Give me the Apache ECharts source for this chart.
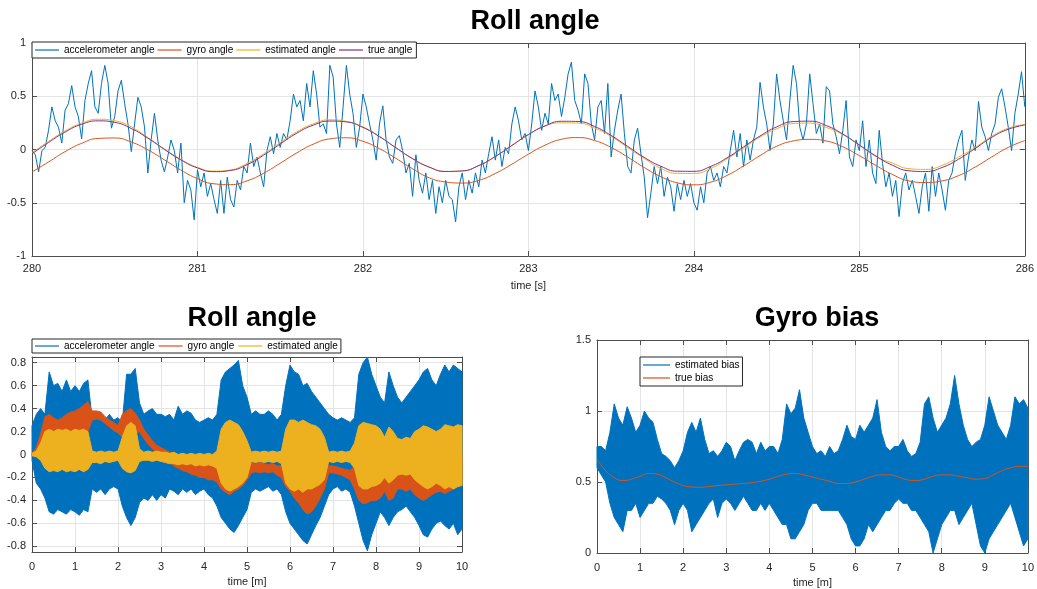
<!DOCTYPE html>
<html><head><meta charset="utf-8">
<script src="https://cdn.jsdelivr.net/npm/echarts@6/dist/echarts.min.js"></script>
<style>html,body{margin:0;padding:0;background:#fff}#c{width:1037px;height:589px}</style>
</head><body><div id="c"></div>
<script>
// ---------- Top: Roll angle 280..286 s ----------
const topTimeStart = 280;
const accelStep = 0.02;
const accelAngle = [
-0.01,-0.05,-0.21,-0.01,0.02,0.18,0.40,0.27,0.21,0.06,
0.37,0.43,0.60,0.40,0.31,0.10,0.46,0.62,0.74,0.40,
0.34,0.62,0.79,0.62,0.20,0.31,0.55,0.65,0.43,0.24,
-0.02,0.24,0.49,0.40,0.21,-0.22,0.09,0.34,0.09,-0.10,
-0.21,-0.07,0.09,-0.01,-0.22,0.06,-0.50,-0.29,-0.38,-0.66,
-0.19,-0.35,-0.22,-0.44,-0.32,-0.47,-0.60,-0.29,-0.60,-0.26,
-0.47,-0.54,-0.29,-0.38,-0.16,-0.22,0.06,-0.16,-0.07,-0.22,
-0.35,-0.01,0.12,-0.04,0.15,0.02,0.15,0.09,0.27,0.52,
0.40,0.46,0.27,0.62,0.40,0.74,0.52,0.21,0.24,0.15,
0.79,0.68,0.24,0.02,0.40,0.79,0.52,0.34,0.02,0.21,
0.52,0.40,0.24,0.09,-0.10,0.24,0.41,0.09,-0.07,-0.13,
0.09,0.13,-0.01,-0.22,-0.13,-0.44,-0.05,-0.29,-0.41,-0.22,
-0.47,-0.29,-0.60,-0.35,-0.50,-0.29,-0.44,-0.47,-0.68,-0.35,
-0.22,-0.47,-0.29,-0.41,-0.22,-0.35,-0.10,-0.22,-0.04,0.12,
-0.10,0.09,-0.16,0.02,-0.04,0.24,0.40,0.27,0.09,0.15,
-0.01,0.24,0.55,0.40,0.18,0.34,0.24,0.62,0.46,0.52,
0.31,0.49,0.71,0.82,0.46,0.37,0.24,0.71,0.62,0.24,
0.09,0.40,0.46,0.15,0.62,-0.07,0.18,0.37,0.52,0.15,
-0.16,-0.22,0.09,0.20,-0.04,-0.26,-0.64,-0.41,-0.16,-0.32,
-0.16,-0.44,-0.26,-0.35,-0.58,-0.32,-0.47,-0.29,-0.44,-0.32,
-0.50,-0.57,-0.35,-0.50,-0.22,-0.16,-0.29,-0.22,-0.35,-0.16,
-0.22,-0.01,0.18,-0.07,0.15,-0.16,0.09,-0.10,0.09,0.21,
0.63,0.40,0.24,-0.01,0.24,0.71,0.46,0.27,0.09,0.46,
0.79,0.62,0.21,0.09,0.24,0.71,0.43,0.15,0.24,0.06,
0.59,0.55,0.24,0.12,-0.04,0.18,0.46,-0.07,-0.16,0.09,
-0.01,0.27,-0.16,0.09,-0.22,-0.32,0.18,-0.13,-0.35,-0.22,
-0.44,-0.29,-0.63,-0.32,-0.22,-0.38,-0.29,-0.44,-0.60,-0.35,
-0.22,-0.58,-0.16,-0.44,-0.22,-0.38,-0.57,-0.29,-0.22,-0.04,
0.09,0.18,-0.29,-0.07,0.09,-0.01,0.45,0.21,0.12,-0.01,
0.15,0.24,0.49,0.57,0.40,0.21,-0.01,0.34,0.52,0.73,
0.40];
const smoothStep = 0.1;
const gyroAngle = [
-0.211,-0.117,-0.02,0.058,0.104,0.108,0.07,-0.003,-0.097,-0.193,
-0.274,-0.322,-0.33,-0.294,-0.223,-0.129,-0.032,0.05,0.1,0.11,
0.077,0.008,-0.084,-0.181,-0.265,-0.305,-0.315,-0.29,-0.225,-0.138,
-0.044,0.04,0.096,0.112,0.084,0.019,-0.071,-0.169,-0.255,-0.313,
-0.332,-0.307,-0.244,-0.155,-0.057,0.03,0.08,0.095,0.08,0.025,
-0.058,-0.15,-0.235,-0.295,-0.31,-0.295,-0.245,-0.165,-0.07,0.02,
0.084];
const estimatedAngle = [
-0.03,0.076,0.174,0.247,0.284,0.27,0.212,0.112,0.006,-0.093,
-0.168,-0.203,-0.192,-0.13,-0.041,0.064,0.165,0.241,0.279,0.264,
0.212,0.125,0.015,-0.086,-0.165,-0.206,-0.201,-0.151,-0.066,0.038,
0.14,0.221,0.25,0.248,0.201,0.122,0.019,-0.084,-0.177,-0.224,
-0.225,-0.18,-0.089,0.014,0.117,0.194,0.244,0.248,0.207,0.14,
0.038,-0.066,-0.128,-0.18,-0.187,-0.149,-0.071,0.019,0.124,0.2,
0.235];
const trueAngle = [
-0.04,0.066,0.164,0.237,0.269,0.255,0.197,0.107,0.001,-0.098,
-0.173,-0.208,-0.197,-0.142,-0.053,0.052,0.153,0.229,0.267,0.259,
0.207,0.12,0.015,-0.086,-0.165,-0.206,-0.201,-0.151,-0.066,0.038,
0.14,0.221,0.265,0.263,0.216,0.132,0.029,-0.074,-0.157,-0.204,
-0.205,-0.16,-0.079,0.024,0.127,0.212,0.262,0.266,0.225,0.145,
0.043,-0.061,-0.148,-0.2,-0.207,-0.169,-0.091,0.009,0.114,0.19,
0.23];

// ---------- Bottom left: Roll angle over 10 min (envelopes every 0.1 min) ----------
const bandStep = 0.1;
const accUpper = [
0.25,0.35,0.4,0.35,0.72,0.6,0.62,0.55,0.65,0.55,
0.6,0.55,0.62,0.65,0.3,0.35,0.32,0.3,0.35,0.3,
0.32,0.28,0.7,0.7,0.75,0.45,0.35,0.38,0.4,0.35,
0.35,0.33,0.35,0.3,0.42,0.35,0.38,0.36,0.3,0.28,
0.3,0.32,0.3,0.35,0.65,0.72,0.75,0.78,0.82,0.6,
0.5,0.35,0.38,0.35,0.35,0.38,0.35,0.3,0.35,0.6,
0.78,0.72,0.7,0.6,0.62,0.55,0.5,0.45,0.4,0.35,
0.32,0.3,0.32,0.3,0.28,0.32,0.7,0.8,0.85,0.7,
0.6,0.5,0.45,0.72,0.6,0.5,0.45,0.5,0.55,0.6,
0.65,0.72,0.75,0.65,0.6,0.7,0.78,0.72,0.78,0.75,
0.72];
const accLower = [
-0.05,-0.25,-0.3,-0.38,-0.5,-0.52,-0.48,-0.5,-0.52,-0.48,
-0.5,-0.53,-0.48,-0.5,-0.3,-0.33,-0.3,-0.35,-0.3,-0.28,
-0.3,-0.45,-0.55,-0.62,-0.55,-0.42,-0.38,-0.4,-0.35,-0.4,
-0.35,-0.38,-0.3,-0.32,-0.35,-0.3,-0.33,-0.3,-0.35,-0.32,
-0.3,-0.35,-0.38,-0.45,-0.55,-0.6,-0.65,-0.68,-0.62,-0.55,
-0.48,-0.33,-0.3,-0.32,-0.3,-0.28,-0.32,-0.3,-0.35,-0.5,
-0.6,-0.65,-0.7,-0.75,-0.78,-0.7,-0.62,-0.55,-0.45,-0.35,
-0.3,-0.28,-0.32,-0.3,-0.33,-0.45,-0.6,-0.75,-0.84,-0.7,
-0.6,-0.5,-0.55,-0.62,-0.55,-0.5,-0.48,-0.45,-0.5,-0.55,
-0.62,-0.7,-0.72,-0.65,-0.6,-0.58,-0.62,-0.65,-0.6,-0.7,
-0.65];
const gyroUpper = [
0.01,0.06,0.18,0.33,0.35,0.32,0.3,0.32,0.35,0.37,
0.38,0.4,0.43,0.46,0.38,0.38,0.37,0.33,0.3,0.28,
0.25,0.35,0.38,0.4,0.36,0.3,0.22,0.17,0.12,0.08,
0.06,0.04,0.02,0.0,0.0,-0.01,-0.02,-0.03,-0.04,-0.05,
-0.06,-0.07,-0.08,-0.08,0.1,0.1,0.1,0.1,0.1,0.05,
0.0,-0.07,-0.08,-0.07,-0.08,-0.09,-0.08,-0.1,-0.1,0.0,
0.0,0.0,0.0,0.0,0.0,0.0,0.0,0.0,-0.05,-0.1,
-0.1,-0.11,-0.12,-0.13,-0.14,-0.1,0.0,0.0,0.0,0.0,
0.0,-0.05,-0.1,0.0,0.0,-0.08,-0.1,-0.1,-0.1,-0.05,
0.0,0.0,0.0,0.0,0.0,0.0,0.0,0.0,0.0,0.0,
0.0];
const gyroLower = [
-0.01,-0.02,0.0,0.05,0.1,0.1,0.08,0.1,0.12,0.15,
0.15,0.17,0.2,0.2,0.3,0.31,0.3,0.27,0.24,0.21,
0.19,0.15,0.2,0.2,0.18,0.2,0.14,0.09,0.05,0.02,
0.0,-0.02,-0.05,-0.1,-0.12,-0.14,-0.15,-0.17,-0.18,-0.2,
-0.2,-0.22,-0.22,-0.24,-0.3,-0.33,-0.35,-0.32,-0.3,-0.27,
-0.22,-0.16,-0.15,-0.16,-0.15,-0.16,-0.15,-0.18,-0.2,-0.28,
-0.32,-0.38,-0.42,-0.48,-0.52,-0.5,-0.45,-0.38,-0.3,-0.16,
-0.16,-0.17,-0.18,-0.2,-0.22,-0.3,-0.4,-0.43,-0.42,-0.4,
-0.4,-0.38,-0.32,-0.4,-0.38,-0.3,-0.3,-0.32,-0.3,-0.35,
-0.38,-0.4,-0.38,-0.35,-0.33,-0.32,-0.34,-0.32,-0.3,-0.28,
-0.26];
const estUpper = [
0.01,0.03,0.1,0.2,0.22,0.2,0.22,0.21,0.22,0.2,
0.22,0.21,0.22,0.2,0.03,0.02,0.03,0.02,0.03,0.02,
0.03,0.15,0.25,0.28,0.25,0.05,0.02,0.03,0.02,0.03,
0.02,0.02,0.01,0.02,0.0,0.01,0.0,0.01,0.0,0.01,
0.0,0.01,0.0,0.03,0.22,0.28,0.3,0.28,0.26,0.2,
0.12,0.02,0.03,0.02,0.03,0.02,0.03,0.02,0.03,0.22,
0.3,0.3,0.28,0.3,0.28,0.26,0.25,0.22,0.15,0.02,
0.03,0.02,0.03,0.02,0.03,0.1,0.25,0.28,0.27,0.26,
0.25,0.22,0.15,0.24,0.2,0.14,0.13,0.15,0.14,0.2,
0.22,0.25,0.24,0.22,0.2,0.22,0.26,0.25,0.24,0.26,
0.25];
const estLower = [
-0.01,-0.02,-0.05,-0.12,-0.15,-0.14,-0.15,-0.13,-0.15,-0.14,
-0.15,-0.13,-0.15,-0.13,-0.07,-0.07,-0.08,-0.06,-0.07,-0.06,
-0.05,-0.12,-0.15,-0.16,-0.14,-0.06,-0.05,-0.05,-0.06,-0.05,
-0.06,-0.07,-0.08,-0.08,-0.09,-0.08,-0.09,-0.08,-0.1,-0.09,
-0.1,-0.09,-0.1,-0.12,-0.25,-0.3,-0.32,-0.3,-0.28,-0.25,
-0.2,-0.06,-0.07,-0.06,-0.07,-0.06,-0.07,-0.06,-0.08,-0.25,
-0.3,-0.32,-0.3,-0.33,-0.3,-0.3,-0.28,-0.26,-0.22,-0.06,
-0.07,-0.06,-0.07,-0.06,-0.07,-0.12,-0.27,-0.3,-0.3,-0.28,
-0.27,-0.25,-0.2,-0.25,-0.22,-0.18,-0.17,-0.18,-0.17,-0.22,
-0.25,-0.28,-0.3,-0.28,-0.25,-0.27,-0.3,-0.28,-0.3,-0.28,
-0.27];

// ---------- Bottom right: Gyro bias ----------
const biasUpper = [
0.75,0.75,0.72,0.85,1.05,0.95,0.9,1.03,0.95,0.85,
0.9,1.0,0.95,0.92,0.8,0.7,0.68,0.65,0.6,0.65,
0.72,0.85,0.92,0.85,0.95,0.8,0.7,0.72,0.68,0.72,
0.78,0.75,0.65,0.72,0.78,0.8,0.78,0.7,0.78,0.72,
0.75,0.75,0.7,0.8,1.05,0.98,1.02,1.15,0.95,0.85,
0.75,0.7,0.72,0.68,0.75,0.7,0.72,0.8,0.9,0.82,
0.8,0.9,0.85,0.9,0.95,1.08,0.85,0.75,0.72,0.75,
0.75,0.8,0.72,0.68,0.7,0.78,1.05,1.1,0.95,0.85,
0.9,0.95,1.05,1.25,1.05,0.9,0.8,0.75,0.78,0.8,
0.9,1.1,1.0,0.9,0.85,0.8,0.9,1.1,1.05,1.08,
1.02];
const biasLower = [
0.6,0.55,0.5,0.35,0.25,0.2,0.15,0.3,0.3,0.35,
0.25,0.3,0.35,0.35,0.4,0.38,0.35,0.3,0.2,0.3,
0.35,0.3,0.15,0.2,0.25,0.3,0.35,0.38,0.25,0.35,
0.38,0.35,0.3,0.35,0.4,0.35,0.3,0.3,0.35,0.3,
0.35,0.3,0.25,0.2,0.2,0.1,0.1,0.15,0.2,0.3,
0.35,0.35,0.3,0.3,0.3,0.3,0.3,0.25,0.2,0.1,
0.05,0.05,0.1,0.2,0.15,0.2,0.25,0.3,0.3,0.35,
0.38,0.35,0.35,0.3,0.3,0.25,0.2,0.15,0.0,0.1,
0.2,0.25,0.3,0.3,0.2,0.25,0.3,0.35,0.2,0.05,
0.0,0.1,0.15,0.2,0.25,0.3,0.35,0.25,0.15,0.05,
0.1];
const trueBiasStep = 0.2;
const trueBias = [
0.66,0.58,0.53,0.51,0.52,0.54,0.56,0.555,0.53,0.5,
0.475,0.465,0.463,0.468,0.475,0.48,0.485,0.49,0.495,0.505,
0.52,0.54,0.555,0.56,0.55,0.535,0.52,0.505,0.49,0.49,
0.5,0.52,0.54,0.55,0.55,0.535,0.515,0.51,0.52,0.54,
0.55,0.55,0.54,0.53,0.52,0.525,0.55,0.58,0.6,0.61,
0.61];

const rollLabels = [-0.8,-0.6,-0.4,-0.2,0,0.2,0.4,0.6,0.8];

// ---------- styling ----------
const FONT = 'Liberation Sans, Arial, sans-serif';
const TXT = '#262626';
const BOX = '#4d4d4d';
const GRIDC = '#e4e4e4';
const C_BLUE = '#0072BD', C_ORANGE = '#D95319', C_YELLOW = '#EDB120', C_PURPLE = '#7E2F8E';

function xPair(g, min, max, interval, name, nameGap, margin) {
  return [{
    type: 'value', gridIndex: g, min, max, interval, position: 'bottom',
    axisLine: {show: true, onZero: false, lineStyle: {color: BOX, width: 1}},
    axisTick: {show: true, inside: true, length: 5, lineStyle: {color: BOX}},
    axisLabel: {color: TXT, fontSize: 11, fontFamily: FONT, margin},
    splitLine: {show: true, lineStyle: {color: GRIDC, width: 1}},
    name, nameLocation: 'middle', nameGap,
    nameTextStyle: {color: TXT, fontSize: 11, fontFamily: FONT}
  }, {
    type: 'value', gridIndex: g, min, max, interval, position: 'top',
    axisLine: {show: true, onZero: false, lineStyle: {color: BOX, width: 1}},
    axisTick: {show: true, inside: true, length: 5, lineStyle: {color: BOX}},
    axisLabel: {show: false}, splitLine: {show: false}
  }];
}
function yPair(g, min, max, interval, custom) {
  const a = {
    type: 'value', gridIndex: g, min, max, position: 'left',
    axisLine: {show: true, onZero: false, lineStyle: {color: BOX, width: 1}},
    axisTick: {show: true, inside: true, length: 5, lineStyle: {color: BOX}},
    axisLabel: {color: TXT, fontSize: 11, fontFamily: FONT, margin: 6},
    splitLine: {show: true, lineStyle: {color: GRIDC, width: 1}}
  };
  const b = {
    type: 'value', gridIndex: g, min, max, position: 'right',
    axisLine: {show: true, onZero: false, lineStyle: {color: BOX, width: 1}},
    axisTick: {show: true, inside: true, length: 5, lineStyle: {color: BOX}},
    axisLabel: {show: false}, splitLine: {show: false}
  };
  if (custom) {
    a.axisTick.customValues = custom; a.axisLabel.customValues = custom;
    b.axisTick.customValues = custom;
  } else { a.interval = interval; b.interval = interval; }
  return [a, b];
}

function pts(arr, start, step) { return arr.map((v, i) => [start + i * step, v]); }

// filled band between a lower and an upper envelope, drawn through the axes
function band(id, lower, upper, color, xi, yi) {
  const data = upper.map((v, i) => [i * bandStep, lower[i], v]);
  return {
    type: 'custom', name: id, xAxisIndex: xi, yAxisIndex: yi, data,
    encode: {x: 0, y: [1, 2]}, silent: true, animation: false,
    renderItem(params, api) {
      if (params.dataIndex !== 0) return null;
      const top = data.map(d => api.coord([d[0], d[2]]));
      const bot = data.map(d => api.coord([d[0], d[1]])).reverse();
      return {
        type: 'polygon', shape: {points: top.concat(bot)},
        style: {fill: color, stroke: color, lineWidth: 1, lineJoin: 'miter'}
      };
    }
  };
}

const series = [
  {type: 'line', name: 'accelerometer angle', xAxisIndex: 0, yAxisIndex: 0,
   data: pts(accelAngle, topTimeStart, accelStep), symbol: 'none',
   lineStyle: {color: C_BLUE, width: 1}, itemStyle: {color: C_BLUE}, animation: false},
  {type: 'line', name: 'gyro angle', xAxisIndex: 0, yAxisIndex: 0, smooth: true,
   data: pts(gyroAngle, topTimeStart, smoothStep), symbol: 'none',
   lineStyle: {color: C_ORANGE, width: 1}, itemStyle: {color: C_ORANGE}, animation: false},
  {type: 'line', name: 'estimated angle', xAxisIndex: 0, yAxisIndex: 0, smooth: true,
   data: pts(estimatedAngle, topTimeStart, smoothStep), symbol: 'none',
   lineStyle: {color: C_YELLOW, width: 1}, itemStyle: {color: C_YELLOW}, animation: false},
  {type: 'line', name: 'true angle', xAxisIndex: 0, yAxisIndex: 0, smooth: true,
   data: pts(trueAngle, topTimeStart, smoothStep), symbol: 'none',
   lineStyle: {color: C_PURPLE, width: 1}, itemStyle: {color: C_PURPLE}, animation: false},
  band('acc band', accLower, accUpper, C_BLUE, 2, 2),
  band('gyro band', gyroLower, gyroUpper, C_ORANGE, 2, 2),
  band('est band', estLower, estUpper, C_YELLOW, 2, 2),
  band('bias band', biasLower, biasUpper, C_BLUE, 4, 4),
  {type: 'line', name: 'estimated bias', xAxisIndex: 4, yAxisIndex: 4, data: [],
   symbol: 'none', lineStyle: {color: C_BLUE, width: 2}, itemStyle: {color: C_BLUE}},
  {type: 'line', name: 'true bias', xAxisIndex: 4, yAxisIndex: 4, smooth: true,
   data: pts(trueBias, 0, trueBiasStep), symbol: 'none',
   lineStyle: {color: C_ORANGE, width: 1}, itemStyle: {color: C_ORANGE}, animation: false}
];

const legendBase = {
  orient: 'horizontal', selectedMode: false, backgroundColor: '#fff',
  borderColor: '#262626', borderWidth: 1, icon: 'rect', itemHeight: 1.2,
  textStyle: {fontSize: 10, color: '#000', fontFamily: FONT}
};

const option = {
  animation: false,
  backgroundColor: '#fff',
  title: [
    {text: 'Roll angle', left: 530, top: 3, textAlign: 'center',
     textStyle: {fontSize: 27, fontWeight: 'bold', color: '#000', fontFamily: FONT}},
    {text: 'Roll angle', left: 247, top: 300, textAlign: 'center',
     textStyle: {fontSize: 27, fontWeight: 'bold', color: '#000', fontFamily: FONT}},
    {text: 'Gyro bias', left: 812, top: 300, textAlign: 'center',
     textStyle: {fontSize: 27, fontWeight: 'bold', color: '#000', fontFamily: FONT}}
  ],
  grid: [
    {left: 32, top: 43, width: 996, height: 213},
    {left: 32, top: 357, width: 430, height: 195},
    {left: 597, top: 340, width: 431, height: 213}
  ],
  xAxis: [
    ...xPair(0, 280, 286, 1, 'time [s]', 24, 7),
    ...xPair(1, 0, 10, 1, 'time [m]', 24, 9),
    ...xPair(2, 0, 10, 1, 'time [m]', 24, 9)
  ],
  yAxis: [
    ...yPair(0, -1, 1, 0.5),
    ...yPair(1, -0.85, 0.85, null, rollLabels),
    ...yPair(2, 0, 1.5, 0.5)
  ],
  legend: [
    Object.assign({}, legendBase, {
      data: ['accelerometer angle', 'gyro angle', 'estimated angle', 'true angle'],
      left: 32, top: 42, itemWidth: 24, itemGap: 3, padding: [3, 4, 3, 3]}),
    Object.assign({}, legendBase, {
      data: ['accelerometer angle', 'gyro angle', 'estimated angle'],
      left: 32, top: 339, itemWidth: 24, itemGap: 4, padding: [2, 3, 2, 3]}),
    Object.assign({}, legendBase, {
      data: ['estimated bias', 'true bias'], orient: 'vertical',
      left: 640, top: 357, itemWidth: 27, itemGap: 3, padding: [3, 3, 3, 3]})
  ],
  series
};

const chart = echarts.init(document.getElementById('c'), null, {renderer: 'canvas'});
chart.setOption(option);
</script>
</body></html>
